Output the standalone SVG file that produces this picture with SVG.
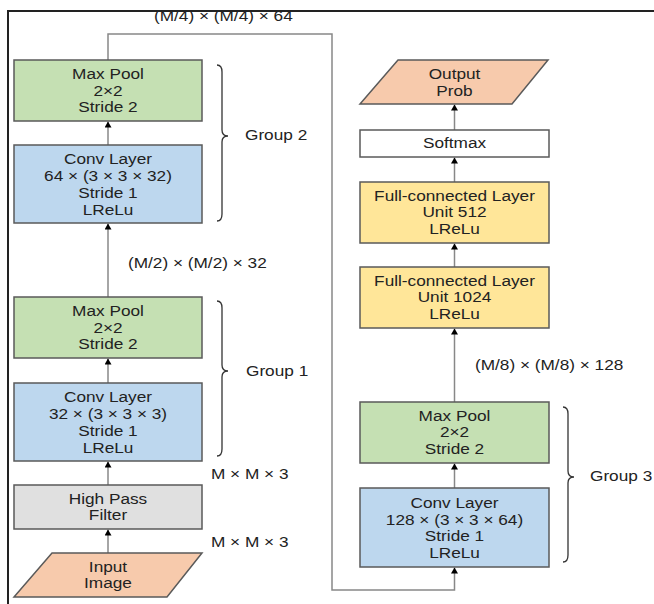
<svg xmlns="http://www.w3.org/2000/svg" width="654" height="604" viewBox="0 0 654 604">
<style>
text{font-family:"Liberation Sans",Arial,sans-serif;font-size:14px;fill:#222}
.c{text-anchor:middle}
.box{stroke:#5a5a5a;stroke-width:1.5}
.green{fill:#c5e0b3}.blue{fill:#bdd7ee}.gray{fill:#e0e0e0}.peach{fill:#f7caac}.yellow{fill:#ffe699}.white{fill:#fff}
.con{fill:none;stroke:#888;stroke-width:1.5}
.brace{fill:none;stroke:#333;stroke-width:1.3}
</style>
<defs>
<marker id="ah" markerWidth="6" markerHeight="7" refX="6" refY="3.5" orient="auto" markerUnits="userSpaceOnUse">
<path d="M0,0 L6,3.5 L0,7 Z" fill="#000"/>
</marker>
</defs>
<rect width="654" height="604" fill="#fff"/>
<g id="frame" stroke="#222" stroke-width="2" fill="none">
<path d="M8,604 L8,11 L654,11"/>
</g>
<g id="connectors">
<path class="con" d="M108,60 L108,34 L332,34 L332,590 L454.5,590 L454.5,567.5" marker-end="url(#ah)"/>
<path class="con" d="M108,145 L108,121.5" marker-end="url(#ah)"/>
<path class="con" d="M108,297 L108,223.5" marker-end="url(#ah)"/>
<path class="con" d="M108,383 L108,358.5" marker-end="url(#ah)"/>
<path class="con" d="M108,485 L108,461.5" marker-end="url(#ah)"/>
<path class="con" d="M108,553 L108,529.5" marker-end="url(#ah)"/>
<path class="con" d="M454.5,488 L454.5,463.5" marker-end="url(#ah)"/>
<path class="con" d="M454.5,402 L454.5,328.5" marker-end="url(#ah)"/>
<path class="con" d="M454.5,267 L454.5,243.5" marker-end="url(#ah)"/>
<path class="con" d="M454.5,182 L454.5,157.5" marker-end="url(#ah)"/>
<path class="con" d="M454.5,130 L454.5,104.5" marker-end="url(#ah)"/>
</g>
<g id="maxpool2">
<rect class="box green" x="14" y="60" width="188" height="61"/>
<g transform="translate(108 0) scale(1.23 1)"><text class="c" x="0" y="79">Max Pool</text><text class="c" x="0" y="95.7">2×2</text><text class="c" x="0" y="112.4">Stride 2</text></g>
</g>
<g id="conv2">
<rect class="box blue" x="14" y="145" width="188" height="78"/>
<g transform="translate(108 0) scale(1.23 1)"><text class="c" x="0" y="164.5">Conv Layer</text><text class="c" x="0" y="181.2">64 × (3 × 3 × 32)</text><text class="c" x="0" y="197.9">Stride 1</text><text class="c" x="0" y="214.6">LReLu</text></g>
</g>
<g id="maxpool1">
<rect class="box green" x="14" y="297" width="188" height="61"/>
<g transform="translate(108 0) scale(1.23 1)"><text class="c" x="0" y="316">Max Pool</text><text class="c" x="0" y="332.7">2×2</text><text class="c" x="0" y="349.4">Stride 2</text></g>
</g>
<g id="conv1">
<rect class="box blue" x="14" y="383" width="188" height="78"/>
<g transform="translate(108 0) scale(1.23 1)"><text class="c" x="0" y="402.5">Conv Layer</text><text class="c" x="0" y="419.2">32 × (3 × 3 × 3)</text><text class="c" x="0" y="435.9">Stride 1</text><text class="c" x="0" y="452.6">LReLu</text></g>
</g>
<g id="highpass">
<rect class="box gray" x="14" y="485" width="188" height="44"/>
<g transform="translate(108 0) scale(1.23 1)"><text class="c" x="0" y="503.8">High Pass</text><text class="c" x="0" y="520.5">Filter</text></g>
</g>
<g id="input">
<polygon class="box peach" points="52,553 202,553 167,597 14,597"/>
<g transform="translate(108 0) scale(1.23 1)"><text class="c" x="0" y="571.8">Input</text><text class="c" x="0" y="588.5">Image</text></g>
</g>
<g id="output">
<polygon class="box peach" points="398,60 548,60 512,104 360,104"/>
<g transform="translate(454.5 0) scale(1.23 1)"><text class="c" x="0" y="79">Output</text><text class="c" x="0" y="95.7">Prob</text></g>
</g>
<g id="softmax">
<rect class="box white" x="360" y="130" width="189" height="27"/>
<g transform="translate(454.5 0) scale(1.23 1)"><text class="c" x="0" y="148.5">Softmax</text></g>
</g>
<g id="fc512">
<rect class="box yellow" x="360" y="182" width="189" height="61"/>
<g transform="translate(454.5 0) scale(1.23 1)"><text class="c" x="0" y="200.8">Full-connected Layer</text><text class="c" x="0" y="217.5">Unit 512</text><text class="c" x="0" y="234.2">LReLu</text></g>
</g>
<g id="fc1024">
<rect class="box yellow" x="360" y="267" width="189" height="61"/>
<g transform="translate(454.5 0) scale(1.23 1)"><text class="c" x="0" y="285.8">Full-connected Layer</text><text class="c" x="0" y="302.5">Unit 1024</text><text class="c" x="0" y="319.2">LReLu</text></g>
</g>
<g id="maxpool3">
<rect class="box green" x="360" y="402" width="189" height="61"/>
<g transform="translate(454.5 0) scale(1.23 1)"><text class="c" x="0" y="420.8">Max Pool</text><text class="c" x="0" y="437.5">2×2</text><text class="c" x="0" y="454.2">Stride 2</text></g>
</g>
<g id="conv3">
<rect class="box blue" x="360" y="488" width="189" height="79"/>
<g transform="translate(454.5 0) scale(1.23 1)"><text class="c" x="0" y="508">Conv Layer</text><text class="c" x="0" y="524.7">128 × (3 × 3 × 64)</text><text class="c" x="0" y="541.4">Stride 1</text><text class="c" x="0" y="558.1">LReLu</text></g>
</g>
<g id="braces">
<path class="brace" d="M217,65 Q222,65 222,72 L222,130 Q222,136 228,136 Q222,136 222,142 L222,214 Q222,221 217,221"/>
<path class="brace" d="M217,301 Q222,301 222,308 L222,365 Q222,371 228,371 Q222,371 222,377 L222,449 Q222,456 217,456"/>
<path class="brace" d="M563,407 Q568,407 568,414 L568,471 Q568,477 574,477 Q568,477 568,483 L568,555 Q568,562 563,562"/>
</g>
<g id="labels">
<g transform="translate(154 0) scale(1.23 1)"><text x="0" y="21.5">(M/4) × (M/4) × 64</text></g>
<g transform="translate(128 0) scale(1.23 1)"><text x="0" y="268">(M/2) × (M/2) × 32</text></g>
<g transform="translate(245 0) scale(1.23 1)"><text x="0" y="140.5">Group 2</text></g>
<g transform="translate(246 0) scale(1.23 1)"><text x="0" y="376">Group 1</text></g>
<g transform="translate(211 0) scale(1.23 1)"><text x="0" y="479.5">M × M × 3</text></g>
<g transform="translate(211 0) scale(1.23 1)"><text x="0" y="547">M × M × 3</text></g>
<g transform="translate(475 0) scale(1.23 1)"><text x="0" y="370.5">(M/8) × (M/8) × 128</text></g>
<g transform="translate(590 0) scale(1.23 1)"><text x="0" y="481.5">Group 3</text></g>
</g>
</svg>
